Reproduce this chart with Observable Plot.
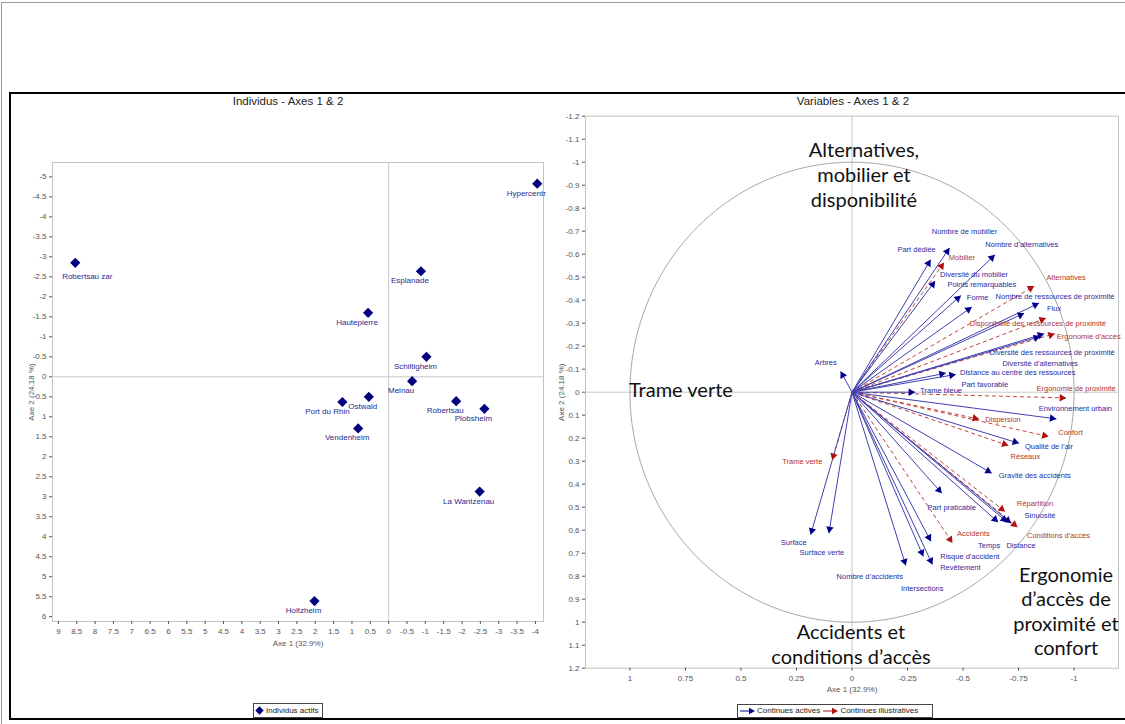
<!DOCTYPE html>
<html><head><meta charset="utf-8">
<script src="https://cdn.jsdelivr.net/npm/d3@7"></script>
<script src="https://cdn.jsdelivr.net/npm/@observablehq/plot@0.6"></script>
<style>
body{margin:0;background:#fff;}
#page{position:relative;width:1125px;height:724px;overflow:hidden;font-family:"Liberation Sans",Arial,sans-serif;background:#fff;}
.abs{position:absolute;}
.title{position:absolute;font-size:11.5px;color:#222;text-align:center;width:300px;line-height:14px;}
.big{position:absolute;font-family:Lato,"Open Sans",sans-serif;font-size:20px;color:#111;text-align:center;line-height:25px;white-space:nowrap;}
.legend{position:absolute;border:1px solid #444;font-size:8px;color:#222;line-height:12px;white-space:nowrap;display:flex;align-items:center;padding:0 1px;box-sizing:border-box;background:#fff;}
.legend svg{flex:none;}
</style></head><body><div id="page"></div>
<script>
// ---------------- DATA ----------------
// Individus (Axe 1, Axe 2)
const indNames = ["Hypercentr","Robertsau zar","Esplanade","Hautepierre","Schiltigheim","Meinau","Ostwald","Port du Rhin","Robertsau","Plobsheim","Vendenheim","La Wantzenau","Holtzheim"];
const indAxe1  = [-4.05, 8.54, -0.88, 0.56, -1.03, -0.64, 0.54, 1.26, -1.84, -2.61, 0.83, -2.48, 2.02];
const indAxe2  = [-4.83, -2.85, -2.64, -1.60, -0.50, 0.11, 0.50, 0.63, 0.61, 0.80, 1.29, 2.87, 5.61];

// Variables actives
const actNames = ["Part dédiée","Nombre de mobilier","Diversité du mobilier","Points remarquables","Forme","Nombre d'alternatives","Nombre de ressources de proximité","Flux","Diversité des ressources de proximité","Diversité d'alternatives","Distance au centre des ressources","Part favorable","Trame bleue","Arbres","Environnement urbain","Qualité de l'air","Gravité des accidents","Part praticable","Sinuosité","Temps","Distance","Risque d'accident","Revêtement","Intersections","Nombre d'accidents","Surface","Surface verte"];
const actAxe1 = [-0.354,-0.439,-0.374,-0.490,-0.539,-0.643,-0.842,-0.775,-0.865,-0.847,-0.467,-0.422,-0.284,0.051,-0.920,-0.752,-0.629,-0.404,-0.716,-0.658,-0.698,-0.355,-0.362,-0.321,-0.242,0.186,0.104];
const actAxe2 = [-0.576,-0.627,-0.483,-0.420,-0.370,-0.597,-0.387,-0.343,-0.254,-0.242,-0.077,-0.083,0.000,-0.090,0.116,0.222,0.352,0.439,0.569,0.565,0.564,0.648,0.749,0.714,0.753,0.619,0.613];

// Variables illustratives
const illNames = ["Mobilier","Alternatives","Disponibilité des ressources de proximité","Ergonomie d'accès","Ergonomie de proximité","Dispersion","Confort","Réseaux","Répartition","Conditions d'accès","Accidents","Trame verte"];
const illAxe1 = [-0.414,-0.820,-0.873,-0.913,-0.964,-0.572,-0.885,-0.704,-0.689,-0.745,-0.452,0.089];
const illAxe2 = [-0.563,-0.461,-0.322,-0.254,0.025,0.117,0.193,0.232,0.519,0.587,0.655,0.294];

// Tick labels
const indXTicks = [9,8.5,8,7.5,7,6.5,6,5.5,5,4.5,4,3.5,3,2.5,2,1.5,1,0.5,0,-0.5,-1,-1.5,-2,-2.5,-3,-3.5,-4];
const indYTicks = [-5,-4.5,-4,-3.5,-3,-2.5,-2,-1.5,-1,-0.5,0,0.5,1,1.5,2,2.5,3,3.5,4,4.5,5,5.5,6];
const varXTicks = [1,0.75,0.5,0.25,0,-0.25,-0.5,-0.75,-1];
const varYTicks = [-1.2,-1.1,-1,-0.9,-0.8,-0.7,-0.6,-0.5,-0.4,-0.3,-0.2,-0.1,0,0.1,0.2,0.3,0.4,0.5,0.6,0.7,0.8,0.9,1,1.1,1.2];

// ---------------- LAYOUT (pixel nudges for labels) ----------------
const indLabelNudge = {"Robertsau zar": [12, 14], "Port du Rhin": [-15, 9.5], "Ostwald": [-6, 9.5]};
const indLabelDefault = [-11, 9.5];
const varLabelNudge = {
  "Part dédiée":[-14,-10],"Nombre de mobilier":[15,-16],"Diversité du mobilier":[39,-7],"Points remarquables":[21,-11],
  "Forme":[6,-10],"Nombre d'alternatives":[27,-10],"Nombre de ressources de proximité":[16,-7],"Flux":[30,-5],
  "Diversité des ressources de proximité":[8,19],"Diversité d'alternatives":[0,27],"Distance au centre des ressources":[62,-2],
  "Part favorable":[39,11],"Trame bleue":[26,-2],"Arbres":[-15,-9],"Environnement urbain":[19,-10],"Qualité de l'air":[30,3],
  "Gravité des accidents":[43,2],"Part praticable":[10,14],"Sinuosité":[29,-7],"Temps":[-9,23],"Distance":[14,24],
  "Risque d'accident":[39,15],"Revêtement":[28,3],"Intersections":[-1,32],"Nombre d'accidents":[-36,11],"Surface":[-17,8],
  "Surface verte":[-7,19],
  "Mobilier":[18,-5],"Alternatives":[32,-9],"Disponibilité des ressources de proximité":[-8,5],"Ergonomie d'accès":[34,3],
  "Ergonomie de proximité":[10,-9],"Dispersion":[24,0],"Confort":[22,-4],"Réseaux":[17,11],"Répartition":[30,-8],
  "Conditions d'accès":[41,8],"Accidents":[21,-9],"Trame verte":[-30,2]
};
const disp = s => s.replace(/'/g, "\u2019");
const fmt = d => String(+(+d).toFixed(2));

const page = document.getElementById("page");
function addDiv(cls, style, html){ const d=document.createElement("div"); d.className=cls; Object.assign(d.style, style); d.innerHTML=html; page.appendChild(d); return d; }

// outer borders
addDiv("abs", {left:"1px",top:"2px",width:"1130px",height:"730px",borderTop:"1px solid #999",borderLeft:"1px solid #999"}, "");
addDiv("abs", {left:"9px",top:"92px",width:"1118px",height:"628px",border:"2px solid #000",boxSizing:"border-box"}, "");

// ---------------- LEFT PANEL ----------------
const W1=540,H1=624,ML1=42,MR1=7,MT1=68,MB1=97;
const xd1=[9.16,-4.22], yd1=[6.12,-5.36];
const kx1=(W1-ML1-MR1)/(xd1[0]-xd1[1]), ky1=(H1-MT1-MB1)/(yd1[0]-yd1[1]);
const indData = indNames.map((n,i)=>{
  const [dx,dy] = indLabelNudge[n] || indLabelDefault;
  return {name:n, a1:indAxe1[i], a2:indAxe2[i], lx:indAxe1[i]-dx/kx1, ly:indAxe2[i]+dy/ky1};
});
const left = Plot.plot({
  width:W1, height:H1, marginLeft:ML1, marginRight:MR1, marginTop:MT1, marginBottom:MB1,
  x:{domain:xd1}, y:{domain:yd1},
  style:{fontFamily:"Liberation Sans, Arial, sans-serif", background:"transparent", overflow:"visible"},
  marks:[
    Plot.frame({stroke:"#c4c4c4"}),
    Plot.ruleX([0],{stroke:"#c8c8c8"}),
    Plot.ruleY([0],{stroke:"#c8c8c8"}),
    Plot.axisX({ticks:indXTicks, tickFormat:fmt, tickSize:3, tickPadding:4, fontSize:8, color:"#555", label:"Axe 1 (32.9%)", labelArrow:"none", labelAnchor:"center", labelOffset:24}),
    Plot.axisY({ticks:indYTicks, tickFormat:fmt, tickSize:3, tickPadding:3, fontSize:8, color:"#555", label:"Axe 2 (24.18 %)", labelArrow:"none", labelAnchor:"center", labelOffset:24}),
    Plot.dot(indData,{x:"a1", y:"a2", symbol:"diamond2", r:4.6, fill:"#00007f"}),
    Plot.text(indData,{x:"lx", y:"ly", text:"name", fontSize:8, fill:"#2a2a8c"})
  ]
});
left.style.position="absolute"; left.style.left="10px"; left.style.top="94px";
page.appendChild(left);

// ---------------- RIGHT PANEL ----------------
const W2=574,H2=624,ML2=35,MR2=6,MT2=21.7,MB2=50.3;
const xd2=[1.2,-1.2], yd2=[1.2,-1.2];
const kx2=(W2-ML2-MR2)/(xd2[0]-xd2[1]), ky2=(H2-MT2-MB2)/(yd2[0]-yd2[1]);
function varRows(names, a1, a2, kind){
  return names.map((n,i)=>{
    const x=a1[i], y=a2[i];
    const dxs=-x*kx2, dys=y*ky2, L=Math.hypot(dxs,dys);
    const ux=dxs/L, uy=dys/L, off=4.2;
    const [ndx,ndy]=varLabelNudge[n]||[0,0];
    return {name:disp(n), kind, x, y,
      hx:x+off*ux/kx2, hy:y-off*uy/ky2,
      rot:Math.atan2(dxs,-dys)*180/Math.PI,
      lx:x-ndx/kx2, ly:y+ndy/ky2};
  });
}
const act = varRows(actNames, actAxe1, actAxe2, "act");
const ill = varRows(illNames, illAxe1, illAxe2, "ill");
const circle = d3.range(0,361,2).map(a=>({cx:Math.cos(a*Math.PI/180), cy:Math.sin(a*Math.PI/180)}));
const right = Plot.plot({
  width:W2, height:H2, marginLeft:ML2, marginRight:MR2, marginTop:MT2, marginBottom:MB2,
  x:{domain:xd2}, y:{domain:yd2},
  style:{fontFamily:"Liberation Sans, Arial, sans-serif", background:"transparent", overflow:"visible"},
  marks:[
    Plot.frame({stroke:"#c4c4c4"}),
    Plot.ruleX([0],{stroke:"#c8c8c8"}),
    Plot.ruleY([0],{stroke:"#c8c8c8"}),
    Plot.line(circle,{x:"cx", y:"cy", stroke:"#a8a8a8", strokeWidth:1}),
    Plot.axisX({ticks:varXTicks, tickFormat:fmt, tickSize:3, tickPadding:4, fontSize:8, color:"#555", label:"Axe 1 (32.9%)", labelArrow:"none", labelAnchor:"center", labelOffset:24}),
    Plot.axisY({ticks:varYTicks, tickFormat:fmt, tickSize:3, tickPadding:3, fontSize:8, color:"#555", label:"Axe 2 (24.18 %)", labelArrow:"none", labelAnchor:"center", labelOffset:27}),
    Plot.link(ill,{x1:0, y1:0, x2:"x", y2:"y", stroke:"#c0453a", strokeWidth:1, strokeDasharray:"4,3"}),
    Plot.link(act,{x1:0, y1:0, x2:"x", y2:"y", stroke:"#4040b0", strokeWidth:1}),
    Plot.dot(ill,{x:"hx", y:"hy", symbol:"triangle", r:2.8, fill:"#b01010", rotate:"rot"}),
    Plot.dot(act,{x:"hx", y:"hy", symbol:"triangle", r:2.8, fill:"#00008b", rotate:"rot"}),
    Plot.text(act,{x:"lx", y:"ly", text:"name", fontSize:7.5, fill:"#2b2b9e"}),
    Plot.text(ill,{x:"lx", y:"ly", text:"name", fontSize:7.5, fill:"#b3352b"})
  ]
});
right.style.position="absolute"; right.style.left="550px"; right.style.top="94px";
page.appendChild(right);

// ---------------- TITLES, ANNOTATIONS, LEGENDS ----------------
addDiv("title",{left:(288-150)+"px",top:"94px"},"Individus - Axes 1 &amp; 2");
addDiv("title",{left:(853-150)+"px",top:"94px"},"Variables - Axes 1 &amp; 2");

addDiv("big",{left:"764px",top:"137px",width:"200px"},"Alternatives,<br>mobilier et<br>disponibilité");
addDiv("big",{left:"629px",top:"377px"},"Trame verte");
addDiv("big",{left:"751px",top:"619px",width:"200px",lineHeight:"24.5px"},"Accidents et<br>conditions d’accès");
addDiv("big",{left:"966px",top:"562px",width:"200px",lineHeight:"24.3px"},"Ergonomie<br>d’accès de<br>proximité et<br>confort");

addDiv("legend",{left:"253px",top:"703px",width:"70px",height:"15px"},
  '<svg width="9" height="9" style="margin-right:2px"><path d="M4.5 0.3L8.7 4.5L4.5 8.7L0.3 4.5Z" fill="#00007f"/></svg>Individus actifs');
addDiv("legend",{left:"737px",top:"704px",width:"196px",height:"14px"},
  '<svg width="17" height="8" style="margin-right:1px"><line x1="1" y1="4" x2="11" y2="4" stroke="#00008b"/><path d="M10 0.8L16 4L10 7.2Z" fill="#00008b"/></svg>Continues actives&nbsp;' +
  '<svg width="17" height="8" style="margin-right:1px"><line x1="1" y1="4" x2="11" y2="4" stroke="#b01010"/><path d="M10 0.8L16 4L10 7.2Z" fill="#b01010"/></svg>Continues illustratives');
</script>
</body></html>
